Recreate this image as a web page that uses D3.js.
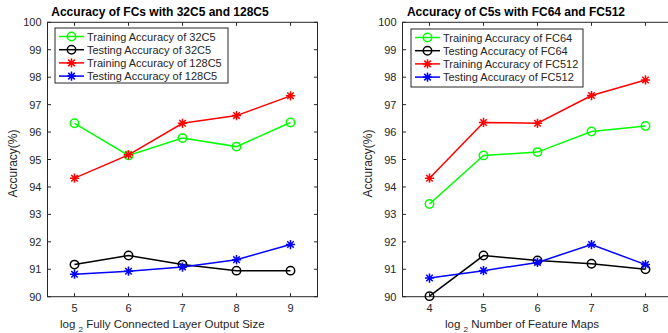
<!DOCTYPE html>
<html>
<head>
<meta charset="utf-8">
<script src="https://cdn.jsdelivr.net/npm/d3@7"></script>
<style>
  body { margin: 0; background: #fff; }
  svg text { font-family: "Liberation Sans", Arial, Helvetica, sans-serif; fill: #262626; }
</style>
</head>
<body>
<svg id="chart" width="668" height="333"></svg>
<script>
const svg = d3.select("#chart");

// left panel data
const fcSizes = [5, 6, 7, 8, 9];
const train32C5 = [96.32, 95.15, 95.78, 95.47, 96.35];
const test32C5 = [91.17, 91.5, 91.17, 90.95, 90.95];
const train128C5 = [94.32, 95.17, 96.32, 96.6, 97.32];
const test128C5 = [90.82, 90.93, 91.08, 91.35, 91.9];

// right panel data
const featureMaps = [4, 5, 6, 7, 8];
const trainFC64 = [93.38, 95.15, 95.27, 96.02, 96.22];
const testFC64 = [90.02, 91.5, 91.32, 91.2, 91.0];
const trainFC512 = [94.32, 96.35, 96.32, 97.33, 97.9];
const testFC512 = [90.68, 90.95, 91.25, 91.9, 91.17];

const yTicks = [90, 91, 92, 93, 94, 95, 96, 97, 98, 99, 100];

const axisColor = "#262626";

function starPath(r) {
	const d = r * Math.SQRT1_2;
	return `M${-r},0L${r},0M0,${-r}L0,${r}M${-d},${-d}L${d},${d}M${-d},${d}L${d},${-d}`;
}

function drawMarker(g, type, color, x, y) {
	if (type === "o") {
		g.append("circle")
			.attr("cx", x).attr("cy", y).attr("r", 4.2)
			.attr("fill", "none").attr("stroke", color).attr("stroke-width", 1.5);
	} else {
		g.append("path")
			.attr("transform", `translate(${x},${y})`)
			.attr("d", starPath(4.6))
			.attr("fill", "none").attr("stroke", color).attr("stroke-width", 1.5);
	}
}

function drawPanel(cfg) {
	const x = d3.scaleLinear().domain(cfg.xDomain).range([cfg.left, cfg.right]);
	const y = d3.scaleLinear().domain([90, 100]).range([cfg.bottom, cfg.top]);
	const g = svg.append("g");

	// box
	g.append("rect")
		.attr("x", cfg.left).attr("y", cfg.top)
		.attr("width", cfg.right - cfg.left).attr("height", cfg.bottom - cfg.top)
		.attr("fill", "none").attr("stroke", axisColor).attr("stroke-width", 1);

	// ticks (inward, both sides)
	const tl = 3.5;
	cfg.xs.forEach((v) => {
		g.append("line").attr("x1", x(v)).attr("x2", x(v))
			.attr("y1", cfg.bottom).attr("y2", cfg.bottom - tl).attr("stroke", axisColor);
		g.append("line").attr("x1", x(v)).attr("x2", x(v))
			.attr("y1", cfg.top).attr("y2", cfg.top + tl).attr("stroke", axisColor);
		g.append("text").attr("x", x(v)).attr("y", cfg.bottom + 15)
			.attr("text-anchor", "middle").attr("font-size", 11).text(v);
	});
	yTicks.forEach((v) => {
		g.append("line").attr("x1", cfg.left).attr("x2", cfg.left + tl)
			.attr("y1", y(v)).attr("y2", y(v)).attr("stroke", axisColor);
		g.append("line").attr("x1", cfg.right).attr("x2", cfg.right - tl)
			.attr("y1", y(v)).attr("y2", y(v)).attr("stroke", axisColor);
		g.append("text").attr("x", cfg.left - 6).attr("y", y(v) + 4)
			.attr("text-anchor", "end").attr("font-size", 11).text(v);
	});

	// title
	g.append("text").attr("x", cfg.titleX).attr("y", 16)
		.attr("text-anchor", "middle").attr("font-size", 12).attr("font-weight", "bold")
		.style("fill", "#000").text(cfg.title);

	// y label
	g.append("text")
		.attr("transform", `translate(${cfg.left - 31},${(cfg.top + cfg.bottom) / 2 + 4}) rotate(-90)`)
		.attr("text-anchor", "middle").attr("font-size", 12).text("Accuracy(%)");

	// x label with subscript
	const xl = g.append("text").attr("x", cfg.xLabelX).attr("y", 328).attr("font-size", 11.5);
	xl.append("tspan").text("log ");
	xl.append("tspan").attr("font-size", 8).attr("dy", 4).text("2");
	xl.append("tspan").attr("dy", -4).text(" " + cfg.xLabel);

	// series
	const line = d3.line().x((d) => x(d[0])).y((d) => y(d[1]));
	cfg.series.forEach((s) => {
		const pts = cfg.xs.map((v, i) => [v, s.values[i]]);
		g.append("path").datum(pts).attr("d", line)
			.attr("fill", "none").attr("stroke", s.color).attr("stroke-width", 1.5);
		pts.forEach((p) => drawMarker(g, s.marker, s.color, x(p[0]), y(p[1])));
	});

	// legend
	const lg = g.append("g");
	lg.append("rect")
		.attr("x", cfg.legend.x).attr("y", cfg.legend.y)
		.attr("width", cfg.legend.w).attr("height", cfg.legend.h)
		.attr("fill", "#fff").attr("stroke", axisColor).attr("stroke-width", 1);
	cfg.series.forEach((s, i) => {
		const ly = cfg.legend.y + 8.5 + i * 13.2;
		const lx = cfg.legend.x + 4;
		lg.append("line").attr("x1", lx).attr("x2", lx + 25)
			.attr("y1", ly).attr("y2", ly)
			.attr("stroke", s.color).attr("stroke-width", 1.5);
		drawMarker(lg, s.marker, s.color, lx + 12.5, ly);
		lg.append("text").attr("x", lx + 28).attr("y", ly + 4)
			.attr("font-size", 11).text(s.name);
	});
}

drawPanel({
	left: 47.5, right: 317.5, top: 22.3, bottom: 296.7,
	xDomain: [4.5, 9.5], xs: fcSizes,
	title: "Accuracy of FCs with 32C5 and 128C5", titleX: 160,
	xLabel: "Fully Connected Layer Output Size", xLabelX: 60,
	legend: { x: 55, y: 28, w: 173, h: 55 },
	series: [
		{ name: "Training Accuracy of 32C5", values: train32C5, color: "#00ff00", marker: "o" },
		{ name: "Testing Accuracy of 32C5", values: test32C5, color: "#000000", marker: "o" },
		{ name: "Training Accuracy of 128C5", values: train128C5, color: "#ff0000", marker: "*" },
		{ name: "Testing Accuracy of 128C5", values: test128C5, color: "#0000ff", marker: "*" },
	],
});

drawPanel({
	left: 402.5, right: 672.5, top: 22.3, bottom: 296.7,
	xDomain: [3.5, 8.5], xs: featureMaps,
	title: "Accuracy of C5s with FC64 and FC512", titleX: 516,
	xLabel: "Number of Feature Maps", xLabelX: 445,
	legend: { x: 411, y: 29, w: 172, h: 58 },
	series: [
		{ name: "Training Accuracy of FC64", values: trainFC64, color: "#00ff00", marker: "o" },
		{ name: "Testing Accuracy of FC64", values: testFC64, color: "#000000", marker: "o" },
		{ name: "Training Accuracy of FC512", values: trainFC512, color: "#ff0000", marker: "*" },
		{ name: "Testing Accuracy of FC512", values: testFC512, color: "#0000ff", marker: "*" },
	],
});
</script>
</body>
</html>
